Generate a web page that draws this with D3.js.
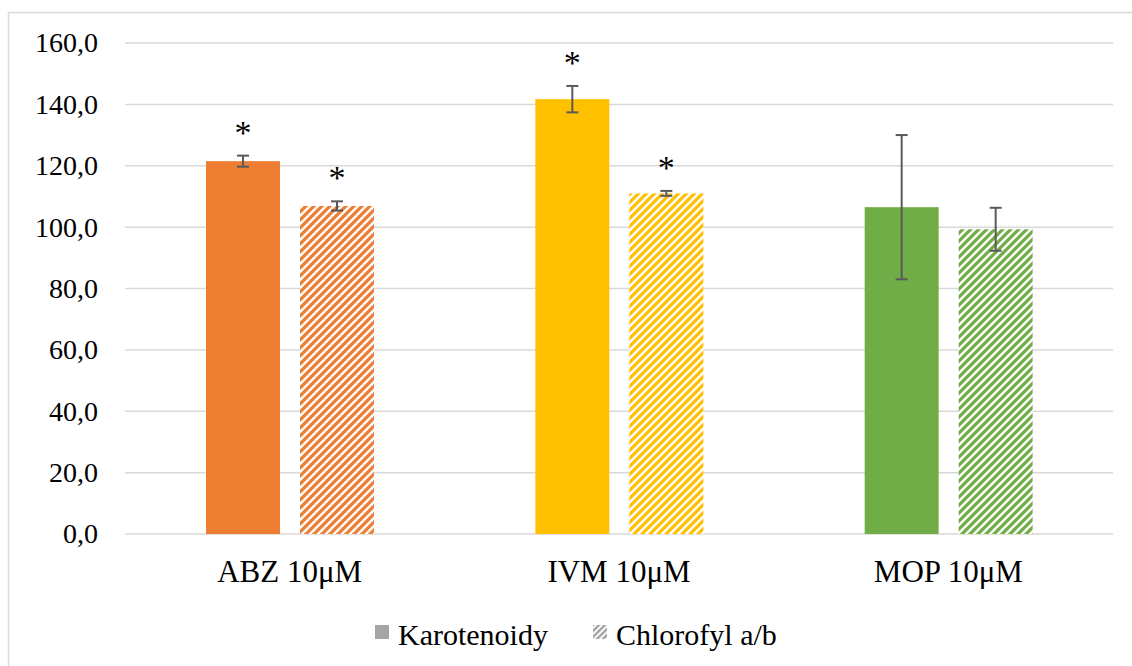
<!DOCTYPE html>
<html>
<head>
<meta charset="utf-8">
<script src="https://cdn.jsdelivr.net/npm/d3@7"></script>
<style>
  body { margin: 0; background: #fff; }
  svg text { font-family: 'Liberation Serif', 'Tinos', 'Times New Roman', 'DejaVu Serif', serif; fill: #000; }
</style>
</head>
<body>
<svg id="chart" width="1132" height="666"></svg>
<script>
// data
var categories = ["ABZ 10\u03bcM", "IVM 10\u03bcM", "MOP 10\u03bcM"];
var seriesNames = ["Karotenoidy", "Chlorofyl a/b"];
var karotenoidy = [121.5, 141.7, 106.5];
var karotenoidyErr = [1.8, 4.3, 23.5];
var chlorofyl = [106.9, 111.0, 99.3];
var chlorofylErr = [1.5, 0.8, 7.0];
var karotenoidyStar = [true, true, false];
var chlorofylStar = [true, true, false];
var yTicks = [0, 20, 40, 60, 80, 100, 120, 140, 160];
var groupColors = ["#ED7D31", "#FFC000", "#70AD47"];

var svg = d3.select("#chart");

// outer chart border (Excel style)
svg.append("rect")
    .attr("x", 8.5).attr("y", 12.5)
    .attr("width", 1140).attr("height", 680)
    .attr("fill", "none")
    .attr("stroke", "#D9D9D9")
    .attr("stroke-width", 1.5);

var margin = { left: 125, right: 19, top: 43, bottom: 132 };
var width = 1132 - margin.left - margin.right;
var height = 666 - margin.top - margin.bottom;

// hatch patterns, one per colour
var defs = svg.append("defs");
groupColors.forEach(function(c, i) {
    var p = defs.append("pattern")
        .attr("id", "hatch" + i)
        .attr("patternUnits", "userSpaceOnUse")
        .attr("width", 8).attr("height", 8);
    p.append("rect").attr("width", 8).attr("height", 8).attr("fill", "#fff");
    p.append("path")
        .attr("d", "M-2,2 L2,-2 M0,8 L8,0 M6,10 L10,6")
        .attr("stroke", c)
        .attr("stroke-width", 3.2);
});
var lp = defs.append("pattern")
    .attr("id", "hatchLegend")
    .attr("patternUnits", "userSpaceOnUse")
    .attr("width", 6).attr("height", 6);
lp.append("rect").attr("width", 6).attr("height", 6).attr("fill", "#fff");
lp.append("path")
    .attr("d", "M-1.5,1.5 L1.5,-1.5 M0,6 L6,0 M4.5,7.5 L7.5,4.5")
    .attr("stroke", "#A5A5A5")
    .attr("stroke-width", 2.4);

var g = svg.append("g")
    .attr("transform", `translate(${margin.left}, ${margin.top})`);

var x0 = d3.scaleBand()
    .domain(categories)
    .range([0, width])
    .paddingInner(0)
    .paddingOuter(0);

var x1 = d3.scaleBand()
    .domain(seriesNames)
    .range([x0.bandwidth() * 0.246, x0.bandwidth() * 0.756])
    .paddingInner(0.213);

var y = d3.scaleLinear()
    .domain([0, 160])
    .range([height, 0]);

// gridlines
g.append("g")
    .selectAll("line")
    .data(yTicks)
    .enter()
    .append("line")
    .attr("x1", 0).attr("x2", width)
    .attr("y1", d => y(d)).attr("y2", d => y(d))
    .attr("stroke", "#D9D9D9")
    .attr("stroke-width", 1.5);

// y axis labels
var yAxis = d3.axisLeft(y)
    .tickValues(yTicks)
    .tickSize(0)
    .tickPadding(27)
    .tickFormat(d => d3.format(".1f")(d).replace(".", ","));

var yg = g.append("g").call(yAxis).attr("font-family", null);
yg.select(".domain").remove();
yg.selectAll("text")
    .attr("font-size", 28)
    .attr("fill", "#000");

// x axis labels
var xAxis = d3.axisBottom(x0).tickSize(0).tickPadding(26);
var xg = g.append("g")
    .attr("transform", `translate(0, ${height})`)
    .call(xAxis)
    .attr("font-family", null);
xg.select(".domain").remove();
xg.selectAll("text")
    .attr("font-size", 31)
    .attr("fill", "#000");

// build rows
var rows = [];
categories.forEach(function(c, i) {
    rows.push({ cat: c, s: seriesNames[0], v: karotenoidy[i], e: karotenoidyErr[i], star: karotenoidyStar[i], fill: groupColors[i] });
    rows.push({ cat: c, s: seriesNames[1], v: chlorofyl[i], e: chlorofylErr[i], star: chlorofylStar[i], fill: "url(#hatch" + i + ")" });
});

g.append("g").selectAll("rect")
    .data(rows)
    .enter()
    .append("rect")
    .attr("x", d => x0(d.cat) + x1(d.s))
    .attr("y", d => y(d.v))
    .attr("width", x1.bandwidth())
    .attr("height", d => y(0) - y(d.v))
    .attr("fill", d => d.fill);

// error bars
var err = g.append("g")
    .attr("stroke", "#595959")
    .attr("stroke-width", 2);
var cx = d => x0(d.cat) + x1(d.s) + x1.bandwidth() / 2;
err.selectAll(".v").data(rows).enter().append("line")
    .attr("x1", cx).attr("x2", cx)
    .attr("y1", d => y(d.v + d.e)).attr("y2", d => y(d.v - d.e));
err.selectAll(".t").data(rows).enter().append("line")
    .attr("x1", d => cx(d) - 6).attr("x2", d => cx(d) + 6)
    .attr("y1", d => y(d.v + d.e)).attr("y2", d => y(d.v + d.e));
err.selectAll(".b").data(rows).enter().append("line")
    .attr("x1", d => cx(d) - 6).attr("x2", d => cx(d) + 6)
    .attr("y1", d => y(d.v - d.e)).attr("y2", d => y(d.v - d.e));

// significance stars
g.append("g").selectAll("text")
    .data(rows.filter(d => d.star))
    .enter()
    .append("text")
    .attr("x", cx)
    .attr("y", d => y(d.v + d.e) - 12)
    .attr("text-anchor", "middle")
    .attr("font-size", 34)
    .text("*");

// legend
var legend = svg.append("g").attr("transform", "translate(375, 645)");
legend.append("rect")
    .attr("x", 0).attr("y", -20)
    .attr("width", 14).attr("height", 14)
    .attr("fill", "#A5A5A5");
legend.append("text")
    .attr("x", 23).attr("y", 0)
    .attr("font-size", 30)
    .text(seriesNames[0]);
legend.append("rect")
    .attr("x", 218).attr("y", -20)
    .attr("width", 14).attr("height", 14)
    .attr("fill", "url(#hatchLegend)");
legend.append("text")
    .attr("x", 241).attr("y", 0)
    .attr("font-size", 30)
    .text(seriesNames[1]);
</script>
</body>
</html>
